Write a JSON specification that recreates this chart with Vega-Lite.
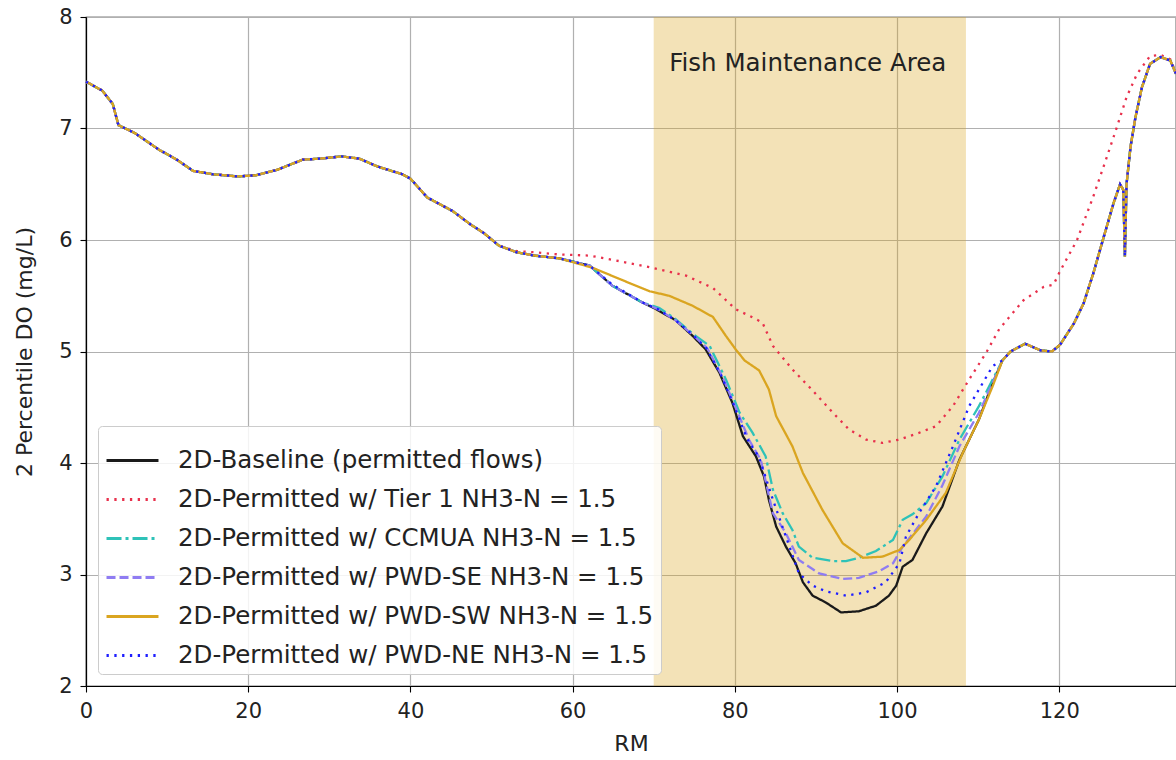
{
  "$schema": "https://vega.github.io/schema/vega-lite/v6.json",
  "autosize": {"type": "none"},
  "padding": {"left": 86, "top": 17, "right": 0, "bottom": 74},
  "width": 1090,
  "height": 669,
  "background": "white",
  "config": {
    "view": {"stroke": "#000000", "strokeWidth": 1.2},
    "font": "DejaVu Sans",
    "axis": {
      "labelFont": "DejaVu Sans", "titleFont": "DejaVu Sans",
      "labelFontSize": 21, "titleFontSize": 22, "labelColor": "#222", "titleColor": "#222",
      "titleFontWeight": "normal", "domainColor": "#000", "domainWidth": 1.2,
      "tickColor": "#000", "tickSize": 6, "tickWidth": 1.1, "labelFlush": false,
      "gridColor": "#b0b0b0", "gridWidth": 1.2, "gridOpacity": 1
    }
  },
  "datasets": {
    "band": [{"start": 70, "end": 108.5, "label": "Fish Maintenance Area", "lx": 89.0, "ly": 7.58}],
    "lines": [
      {"s":"b","x":0,"y":7.42},{"s":"b","x":2,"y":7.34},{"s":"b","x":3.3,"y":7.22},{"s":"b","x":4,"y":7.03},{"s":"b","x":6,"y":6.96},{"s":"b","x":9,"y":6.81},{"s":"b","x":11.2,"y":6.72},{"s":"b","x":13.2,"y":6.62},{"s":"b","x":15.6,"y":6.59},{"s":"b","x":18.7,"y":6.57},{"s":"b","x":20.9,"y":6.58},{"s":"b","x":23.6,"y":6.63},{"s":"b","x":26.7,"y":6.72},{"s":"b","x":28.9,"y":6.73},{"s":"b","x":31.5,"y":6.75},{"s":"b","x":33.7,"y":6.73},{"s":"b","x":35.9,"y":6.66},{"s":"b","x":39,"y":6.59},{"s":"b","x":40,"y":6.55},{"s":"b","x":42.1,"y":6.38},{"s":"b","x":45.2,"y":6.26},{"s":"b","x":47.4,"y":6.14},{"s":"b","x":49.1,"y":6.06},{"s":"b","x":50.9,"y":5.95},{"s":"b","x":53.1,"y":5.89},{"s":"b","x":55.3,"y":5.86},
      {"s":"b","x":58.4,"y":5.835},{"s":"b","x":62.1,"y":5.77},{"s":"b","x":64.9,"y":5.59},{"s":"b","x":68.6,"y":5.44},{"s":"b","x":70.3,"y":5.38},{"s":"b","x":72.7,"y":5.28},{"s":"b","x":74.8,"y":5.14},{"s":"b","x":76.4,"y":5.02},{"s":"b","x":78.1,"y":4.81},{"s":"b","x":79.7,"y":4.54},{"s":"b","x":81,"y":4.24},{"s":"b","x":82.6,"y":4.06},{"s":"b","x":83.6,"y":3.88},{"s":"b","x":84.2,"y":3.67},{"s":"b","x":85.1,"y":3.43},{"s":"b","x":86.3,"y":3.25},{"s":"b","x":87.5,"y":3.1},{"s":"b","x":88.4,"y":2.93},{"s":"b","x":89.6,"y":2.81},{"s":"b","x":91.2,"y":2.75},{"s":"b","x":93.1,"y":2.66},{"s":"b","x":95.3,"y":2.67},{"s":"b","x":97.4,"y":2.72},{"s":"b","x":99,"y":2.81},{"s":"b","x":99.9,"y":2.9},{"s":"b","x":100.7,"y":3.07},{"s":"b","x":101.9,"y":3.13},{"s":"b","x":103.6,"y":3.37},{"s":"b","x":105.6,"y":3.61},{"s":"b","x":107.7,"y":4.03},{"s":"b","x":110.1,"y":4.39},{"s":"b","x":111.7,"y":4.7},
      {"s":"b","x":113,"y":4.92},{"s":"b","x":114,"y":5.0},{"s":"b","x":115.8,"y":5.07},{"s":"b","x":117.7,"y":5.01},{"s":"b","x":119.1,"y":5.0},{"s":"b","x":120.1,"y":5.06},{"s":"b","x":121.8,"y":5.25},{"s":"b","x":123,"y":5.43},{"s":"b","x":124.2,"y":5.7},{"s":"b","x":125.5,"y":6.03},{"s":"b","x":126.7,"y":6.33},{"s":"b","x":127.5,"y":6.5},{"s":"b","x":127.9,"y":6.45},{"s":"b","x":128.1,"y":5.85},{"s":"b","x":128.3,"y":6.5},{"s":"b","x":128.8,"y":6.84},{"s":"b","x":129.4,"y":7.1},{"s":"b","x":130.2,"y":7.37},{"s":"b","x":131.2,"y":7.58},{"s":"b","x":132.5,"y":7.64},{"s":"b","x":133.7,"y":7.61},{"s":"b","x":134.4,"y":7.49},

      {"s":"t","x":0,"y":7.42},{"s":"t","x":2,"y":7.34},{"s":"t","x":3.3,"y":7.22},{"s":"t","x":4,"y":7.03},{"s":"t","x":6,"y":6.96},{"s":"t","x":9,"y":6.81},{"s":"t","x":11.2,"y":6.72},{"s":"t","x":13.2,"y":6.62},{"s":"t","x":15.6,"y":6.59},{"s":"t","x":18.7,"y":6.57},{"s":"t","x":20.9,"y":6.58},{"s":"t","x":23.6,"y":6.63},{"s":"t","x":26.7,"y":6.72},{"s":"t","x":28.9,"y":6.73},{"s":"t","x":31.5,"y":6.75},{"s":"t","x":33.7,"y":6.73},{"s":"t","x":35.9,"y":6.66},{"s":"t","x":39,"y":6.59},{"s":"t","x":40,"y":6.55},{"s":"t","x":42.1,"y":6.38},{"s":"t","x":45.2,"y":6.26},{"s":"t","x":47.4,"y":6.14},{"s":"t","x":49.1,"y":6.06},{"s":"t","x":50.9,"y":5.95},
      {"s":"t","x":53.1,"y":5.9},{"s":"t","x":55.3,"y":5.89},{"s":"t","x":58.4,"y":5.87},{"s":"t","x":62.1,"y":5.86},{"s":"t","x":65.8,"y":5.81},{"s":"t","x":69.9,"y":5.75},{"s":"t","x":74,"y":5.68},{"s":"t","x":77.3,"y":5.57},{"s":"t","x":80.1,"y":5.38},{"s":"t","x":81.8,"y":5.32},{"s":"t","x":83.4,"y":5.26},{"s":"t","x":84.7,"y":5.05},{"s":"t","x":87.1,"y":4.84},{"s":"t","x":89.6,"y":4.65},{"s":"t","x":92.1,"y":4.45},{"s":"t","x":94.1,"y":4.3},{"s":"t","x":96.2,"y":4.21},{"s":"t","x":98.2,"y":4.18},{"s":"t","x":100.3,"y":4.21},{"s":"t","x":102.7,"y":4.27},{"s":"t","x":104.8,"y":4.33},{"s":"t","x":106.9,"y":4.51},{"s":"t","x":108.9,"y":4.75},{"s":"t","x":111,"y":4.99},{"s":"t","x":112.6,"y":5.2},{"s":"t","x":115.6,"y":5.46},{"s":"t","x":118.1,"y":5.58},{"s":"t","x":119.3,"y":5.6},{"s":"t","x":120.1,"y":5.72},{"s":"t","x":122.2,"y":6.0},{"s":"t","x":124.2,"y":6.39},{"s":"t","x":125.9,"y":6.75},{"s":"t","x":127.1,"y":7.01},{"s":"t","x":128.3,"y":7.28},{"s":"t","x":129.6,"y":7.49},{"s":"t","x":131.2,"y":7.65},{"s":"t","x":132.5,"y":7.66},{"s":"t","x":133.7,"y":7.62},{"s":"t","x":134.4,"y":7.5},

      {"s":"c","x":0,"y":7.42},{"s":"c","x":2,"y":7.34},{"s":"c","x":3.3,"y":7.22},{"s":"c","x":4,"y":7.03},{"s":"c","x":6,"y":6.96},{"s":"c","x":9,"y":6.81},{"s":"c","x":11.2,"y":6.72},{"s":"c","x":13.2,"y":6.62},{"s":"c","x":15.6,"y":6.59},{"s":"c","x":18.7,"y":6.57},{"s":"c","x":20.9,"y":6.58},{"s":"c","x":23.6,"y":6.63},{"s":"c","x":26.7,"y":6.72},{"s":"c","x":28.9,"y":6.73},{"s":"c","x":31.5,"y":6.75},{"s":"c","x":33.7,"y":6.73},{"s":"c","x":35.9,"y":6.66},{"s":"c","x":39,"y":6.59},{"s":"c","x":40,"y":6.55},{"s":"c","x":42.1,"y":6.38},{"s":"c","x":45.2,"y":6.26},{"s":"c","x":47.4,"y":6.14},{"s":"c","x":49.1,"y":6.06},{"s":"c","x":50.9,"y":5.95},{"s":"c","x":53.1,"y":5.89},{"s":"c","x":55.3,"y":5.86},
      {"s":"c","x":58.4,"y":5.835},{"s":"c","x":62.1,"y":5.77},{"s":"c","x":64.9,"y":5.59},{"s":"c","x":68.6,"y":5.44},{"s":"c","x":70.7,"y":5.39},{"s":"c","x":72.7,"y":5.29},{"s":"c","x":74.8,"y":5.16},{"s":"c","x":76.9,"y":5.05},{"s":"c","x":78.9,"y":4.75},{"s":"c","x":80.6,"y":4.45},{"s":"c","x":82.2,"y":4.27},{"s":"c","x":83.8,"y":4.06},{"s":"c","x":84.7,"y":3.76},{"s":"c","x":85.9,"y":3.55},{"s":"c","x":87.1,"y":3.4},{"s":"c","x":87.9,"y":3.25},{"s":"c","x":89.6,"y":3.15},{"s":"c","x":92.1,"y":3.12},{"s":"c","x":93.7,"y":3.12},{"s":"c","x":95.3,"y":3.15},{"s":"c","x":97.4,"y":3.21},{"s":"c","x":99.5,"y":3.31},{"s":"c","x":100.7,"y":3.49},{"s":"c","x":101.9,"y":3.54},{"s":"c","x":103.6,"y":3.64},{"s":"c","x":105.6,"y":3.88},{"s":"c","x":107.7,"y":4.21},{"s":"c","x":110.1,"y":4.51},{"s":"c","x":111.8,"y":4.75},
      {"s":"c","x":113,"y":4.92},{"s":"c","x":114,"y":5.0},{"s":"c","x":115.8,"y":5.07},{"s":"c","x":117.7,"y":5.01},{"s":"c","x":119.1,"y":5.0},{"s":"c","x":120.1,"y":5.06},{"s":"c","x":121.8,"y":5.25},{"s":"c","x":123,"y":5.43},{"s":"c","x":124.2,"y":5.7},{"s":"c","x":125.5,"y":6.03},{"s":"c","x":126.7,"y":6.33},{"s":"c","x":127.5,"y":6.5},{"s":"c","x":127.9,"y":6.45},{"s":"c","x":128.1,"y":5.85},{"s":"c","x":128.3,"y":6.5},{"s":"c","x":128.8,"y":6.84},{"s":"c","x":129.4,"y":7.1},{"s":"c","x":130.2,"y":7.37},{"s":"c","x":131.2,"y":7.58},{"s":"c","x":132.5,"y":7.64},{"s":"c","x":133.7,"y":7.61},{"s":"c","x":134.4,"y":7.49},

      {"s":"e","x":0,"y":7.42},{"s":"e","x":2,"y":7.34},{"s":"e","x":3.3,"y":7.22},{"s":"e","x":4,"y":7.03},{"s":"e","x":6,"y":6.96},{"s":"e","x":9,"y":6.81},{"s":"e","x":11.2,"y":6.72},{"s":"e","x":13.2,"y":6.62},{"s":"e","x":15.6,"y":6.59},{"s":"e","x":18.7,"y":6.57},{"s":"e","x":20.9,"y":6.58},{"s":"e","x":23.6,"y":6.63},{"s":"e","x":26.7,"y":6.72},{"s":"e","x":28.9,"y":6.73},{"s":"e","x":31.5,"y":6.75},{"s":"e","x":33.7,"y":6.73},{"s":"e","x":35.9,"y":6.66},{"s":"e","x":39,"y":6.59},{"s":"e","x":40,"y":6.55},{"s":"e","x":42.1,"y":6.38},{"s":"e","x":45.2,"y":6.26},{"s":"e","x":47.4,"y":6.14},{"s":"e","x":49.1,"y":6.06},{"s":"e","x":50.9,"y":5.95},{"s":"e","x":53.1,"y":5.89},{"s":"e","x":55.3,"y":5.86},
      {"s":"e","x":58.4,"y":5.835},{"s":"e","x":62.1,"y":5.77},{"s":"e","x":64.9,"y":5.59},{"s":"e","x":68.6,"y":5.44},{"s":"e","x":70.5,"y":5.38},{"s":"e","x":72.7,"y":5.28},{"s":"e","x":74.8,"y":5.15},{"s":"e","x":76.6,"y":5.03},{"s":"e","x":78.5,"y":4.77},{"s":"e","x":80.2,"y":4.48},{"s":"e","x":81.8,"y":4.2},{"s":"e","x":83.2,"y":4.03},{"s":"e","x":84.7,"y":3.55},{"s":"e","x":86.3,"y":3.37},{"s":"e","x":87.9,"y":3.13},{"s":"e","x":90.4,"y":3.01},{"s":"e","x":93.3,"y":2.96},{"s":"e","x":95.3,"y":2.97},{"s":"e","x":97.8,"y":3.03},{"s":"e","x":99.5,"y":3.1},{"s":"e","x":100.7,"y":3.25},{"s":"e","x":103.6,"y":3.52},{"s":"e","x":105.6,"y":3.8},{"s":"e","x":107.7,"y":4.15},{"s":"e","x":110.1,"y":4.45},{"s":"e","x":111.8,"y":4.72},
      {"s":"e","x":113,"y":4.92},{"s":"e","x":114,"y":5.0},{"s":"e","x":115.8,"y":5.07},{"s":"e","x":117.7,"y":5.01},{"s":"e","x":119.1,"y":5.0},{"s":"e","x":120.1,"y":5.06},{"s":"e","x":121.8,"y":5.25},{"s":"e","x":123,"y":5.43},{"s":"e","x":124.2,"y":5.7},{"s":"e","x":125.5,"y":6.03},{"s":"e","x":126.7,"y":6.33},{"s":"e","x":127.5,"y":6.5},{"s":"e","x":127.9,"y":6.45},{"s":"e","x":128.1,"y":5.85},{"s":"e","x":128.3,"y":6.5},{"s":"e","x":128.8,"y":6.84},{"s":"e","x":129.4,"y":7.1},{"s":"e","x":130.2,"y":7.37},{"s":"e","x":131.2,"y":7.58},{"s":"e","x":132.5,"y":7.64},{"s":"e","x":133.7,"y":7.61},{"s":"e","x":134.4,"y":7.49},

      {"s":"w","x":0,"y":7.42},{"s":"w","x":2,"y":7.34},{"s":"w","x":3.3,"y":7.22},{"s":"w","x":4,"y":7.03},{"s":"w","x":6,"y":6.96},{"s":"w","x":9,"y":6.81},{"s":"w","x":11.2,"y":6.72},{"s":"w","x":13.2,"y":6.62},{"s":"w","x":15.6,"y":6.59},{"s":"w","x":18.7,"y":6.57},{"s":"w","x":20.9,"y":6.58},{"s":"w","x":23.6,"y":6.63},{"s":"w","x":26.7,"y":6.72},{"s":"w","x":28.9,"y":6.73},{"s":"w","x":31.5,"y":6.75},{"s":"w","x":33.7,"y":6.73},{"s":"w","x":35.9,"y":6.66},{"s":"w","x":39,"y":6.59},{"s":"w","x":40,"y":6.55},{"s":"w","x":42.1,"y":6.38},{"s":"w","x":45.2,"y":6.26},{"s":"w","x":47.4,"y":6.14},{"s":"w","x":49.1,"y":6.06},{"s":"w","x":50.9,"y":5.95},{"s":"w","x":53.1,"y":5.89},{"s":"w","x":55.3,"y":5.86},
      {"s":"w","x":58.4,"y":5.835},{"s":"w","x":62.5,"y":5.75},{"s":"w","x":65.8,"y":5.65},{"s":"w","x":69.5,"y":5.54},{"s":"w","x":71.9,"y":5.5},{"s":"w","x":74.8,"y":5.41},{"s":"w","x":77.3,"y":5.31},{"s":"w","x":78.9,"y":5.14},{"s":"w","x":80.1,"y":5.02},{"s":"w","x":81.2,"y":4.92},{"s":"w","x":83,"y":4.83},{"s":"w","x":84.2,"y":4.66},{"s":"w","x":85.1,"y":4.42},{"s":"w","x":87.1,"y":4.15},{"s":"w","x":88.4,"y":3.91},{"s":"w","x":90.8,"y":3.58},{"s":"w","x":93.3,"y":3.28},{"s":"w","x":95.8,"y":3.15},{"s":"w","x":98.2,"y":3.16},{"s":"w","x":100.3,"y":3.22},{"s":"w","x":101.5,"y":3.31},{"s":"w","x":103.6,"y":3.49},{"s":"w","x":106,"y":3.73},{"s":"w","x":108.1,"y":4.09},{"s":"w","x":110.1,"y":4.39},{"s":"w","x":111.8,"y":4.69},
      {"s":"w","x":113,"y":4.92},{"s":"w","x":114,"y":5.0},{"s":"w","x":115.8,"y":5.07},{"s":"w","x":117.7,"y":5.01},{"s":"w","x":119.1,"y":5.0},{"s":"w","x":120.1,"y":5.06},{"s":"w","x":121.8,"y":5.25},{"s":"w","x":123,"y":5.43},{"s":"w","x":124.2,"y":5.7},{"s":"w","x":125.5,"y":6.03},{"s":"w","x":126.7,"y":6.33},{"s":"w","x":127.5,"y":6.5},{"s":"w","x":127.9,"y":6.45},{"s":"w","x":128.1,"y":5.85},{"s":"w","x":128.3,"y":6.5},{"s":"w","x":128.8,"y":6.84},{"s":"w","x":129.4,"y":7.1},{"s":"w","x":130.2,"y":7.37},{"s":"w","x":131.2,"y":7.58},{"s":"w","x":132.5,"y":7.64},{"s":"w","x":133.7,"y":7.61},{"s":"w","x":134.4,"y":7.49},

      {"s":"n","x":0,"y":7.42},{"s":"n","x":2,"y":7.34},{"s":"n","x":3.3,"y":7.22},{"s":"n","x":4,"y":7.03},{"s":"n","x":6,"y":6.96},{"s":"n","x":9,"y":6.81},{"s":"n","x":11.2,"y":6.72},{"s":"n","x":13.2,"y":6.62},{"s":"n","x":15.6,"y":6.59},{"s":"n","x":18.7,"y":6.57},{"s":"n","x":20.9,"y":6.58},{"s":"n","x":23.6,"y":6.63},{"s":"n","x":26.7,"y":6.72},{"s":"n","x":28.9,"y":6.73},{"s":"n","x":31.5,"y":6.75},{"s":"n","x":33.7,"y":6.73},{"s":"n","x":35.9,"y":6.66},{"s":"n","x":39,"y":6.59},{"s":"n","x":40,"y":6.55},{"s":"n","x":42.1,"y":6.38},{"s":"n","x":45.2,"y":6.26},{"s":"n","x":47.4,"y":6.14},{"s":"n","x":49.1,"y":6.06},{"s":"n","x":50.9,"y":5.95},{"s":"n","x":53.1,"y":5.89},{"s":"n","x":55.3,"y":5.86},
      {"s":"n","x":58.4,"y":5.835},{"s":"n","x":62.1,"y":5.77},{"s":"n","x":64.9,"y":5.6},{"s":"n","x":68.6,"y":5.44},{"s":"n","x":70.5,"y":5.38},{"s":"n","x":72.7,"y":5.28},{"s":"n","x":74.8,"y":5.15},{"s":"n","x":76.5,"y":5.03},{"s":"n","x":78.3,"y":4.79},{"s":"n","x":80,"y":4.5},{"s":"n","x":81.5,"y":4.22},{"s":"n","x":83,"y":4.05},{"s":"n","x":84.7,"y":3.67},{"s":"n","x":86.3,"y":3.34},{"s":"n","x":87.9,"y":3.01},{"s":"n","x":89.6,"y":2.9},{"s":"n","x":91.2,"y":2.85},{"s":"n","x":93.7,"y":2.81},{"s":"n","x":96.2,"y":2.84},{"s":"n","x":98.6,"y":2.93},{"s":"n","x":100.3,"y":3.1},{"s":"n","x":101.1,"y":3.34},{"s":"n","x":102.7,"y":3.55},{"s":"n","x":104.8,"y":3.79},{"s":"n","x":106.9,"y":4.15},{"s":"n","x":108.9,"y":4.51},{"s":"n","x":111.8,"y":4.87},
      {"s":"n","x":113,"y":4.92},{"s":"n","x":114,"y":5.0},{"s":"n","x":115.8,"y":5.07},{"s":"n","x":117.7,"y":5.01},{"s":"n","x":119.1,"y":5.0},{"s":"n","x":120.1,"y":5.06},{"s":"n","x":121.8,"y":5.25},{"s":"n","x":123,"y":5.43},{"s":"n","x":124.2,"y":5.7},{"s":"n","x":125.5,"y":6.03},{"s":"n","x":126.7,"y":6.33},{"s":"n","x":127.5,"y":6.5},{"s":"n","x":127.9,"y":6.45},{"s":"n","x":128.1,"y":5.85},{"s":"n","x":128.3,"y":6.5},{"s":"n","x":128.8,"y":6.84},{"s":"n","x":129.4,"y":7.1},{"s":"n","x":130.2,"y":7.37},{"s":"n","x":131.2,"y":7.58},{"s":"n","x":132.5,"y":7.64},{"s":"n","x":133.7,"y":7.61},{"s":"n","x":134.4,"y":7.49}
    ]
  },
  "layer": [
    {
      "data": {"name": "band"},
      "mark": {"type": "rect", "color": "#daa520", "opacity": 0.32},
      "encoding": {
        "x": {"field": "start", "type": "quantitative", "scale": {"domain": [0, 134.4], "nice": false, "zero": false},
              "axis": {"values": [0, 20, 40, 60, 80, 100, 120], "format": "d", "title": "RM", "grid": true, "labelPadding": 8, "titlePadding": 12}},
        "x2": {"field": "end"}
      }
    },
    {
      "data": {"name": "lines"},
      "mark": {"type": "line", "strokeWidth": 2.3, "interpolate": "linear", "strokeCap": "butt"},
      "encoding": {
        "x": {"field": "x", "type": "quantitative"},
        "y": {"field": "y", "type": "quantitative", "scale": {"domain": [2, 8], "nice": false, "zero": false},
              "axis": {"values": [2, 3, 4, 5, 6, 7, 8], "format": "d", "title": "2 Percentile DO (mg/L)", "grid": true, "labelPadding": 8, "titlePadding": 22}},
        "detail": {"field": "s"},
        "color": {
          "field": "s", "type": "nominal",
          "scale": {"domain": ["b", "t", "c", "e", "w", "n"], "range": ["#1a1a1a", "#e8304c", "#2ec2b8", "#8f7cf2", "#daa520", "#1e1eff"]},
          "legend": {
            "title": null, "orient": "bottom-left", "offset": 12,
            "labelExpr": "datum.label == 'b' ? '2D-Baseline (permitted flows)' : datum.label == 't' ? '2D-Permitted w/ Tier 1 NH3-N = 1.5' : datum.label == 'c' ? '2D-Permitted w/ CCMUA NH3-N = 1.5' : datum.label == 'e' ? '2D-Permitted w/ PWD-SE NH3-N = 1.5' : datum.label == 'w' ? '2D-Permitted w/ PWD-SW NH3-N = 1.5' : '2D-Permitted w/ PWD-NE NH3-N = 1.5'",
            "labelFont": "DejaVu Sans", "labelFontSize": 24.5, "labelColor": "#222", "labelLimit": 700,
            "symbolType": "stroke", "symbolSize": 2700, "symbolStrokeWidth": 3, "labelOffset": 18,
            "rowPadding": -19.6, "padding": 7, "fillColor": "rgba(255,255,255,0.85)", "strokeColor": "#cccccc", "cornerRadius": 4
          }
        },
        "strokeDash": {
          "field": "s", "type": "nominal",
          "scale": {"domain": ["b", "t", "c", "e", "w", "n"], "range": [[1, 0], [2.3, 5.5], [15, 4, 3, 4], [9, 4], [1, 0], [2.3, 5.5]]},
          "legend": {
            "title": null, "orient": "bottom-left", "offset": 12,
            "labelExpr": "datum.label == 'b' ? '2D-Baseline (permitted flows)' : datum.label == 't' ? '2D-Permitted w/ Tier 1 NH3-N = 1.5' : datum.label == 'c' ? '2D-Permitted w/ CCMUA NH3-N = 1.5' : datum.label == 'e' ? '2D-Permitted w/ PWD-SE NH3-N = 1.5' : datum.label == 'w' ? '2D-Permitted w/ PWD-SW NH3-N = 1.5' : '2D-Permitted w/ PWD-NE NH3-N = 1.5'",
            "labelFont": "DejaVu Sans", "labelFontSize": 24.5, "labelColor": "#222", "labelLimit": 700,
            "symbolType": "stroke", "symbolSize": 2700, "symbolStrokeWidth": 3, "labelOffset": 18,
            "rowPadding": -19.6, "padding": 7, "fillColor": "rgba(255,255,255,0.85)", "strokeColor": "#cccccc", "cornerRadius": 4
          }
        }
      }
    },
    {
      "data": {"name": "band"},
      "mark": {"type": "text", "font": "DejaVu Sans", "fontSize": 24.5, "color": "#222", "align": "center", "baseline": "middle"},
      "encoding": {
        "x": {"field": "lx", "type": "quantitative"},
        "y": {"field": "ly", "type": "quantitative"},
        "text": {"field": "label"}
      }
    }
  ]
}
